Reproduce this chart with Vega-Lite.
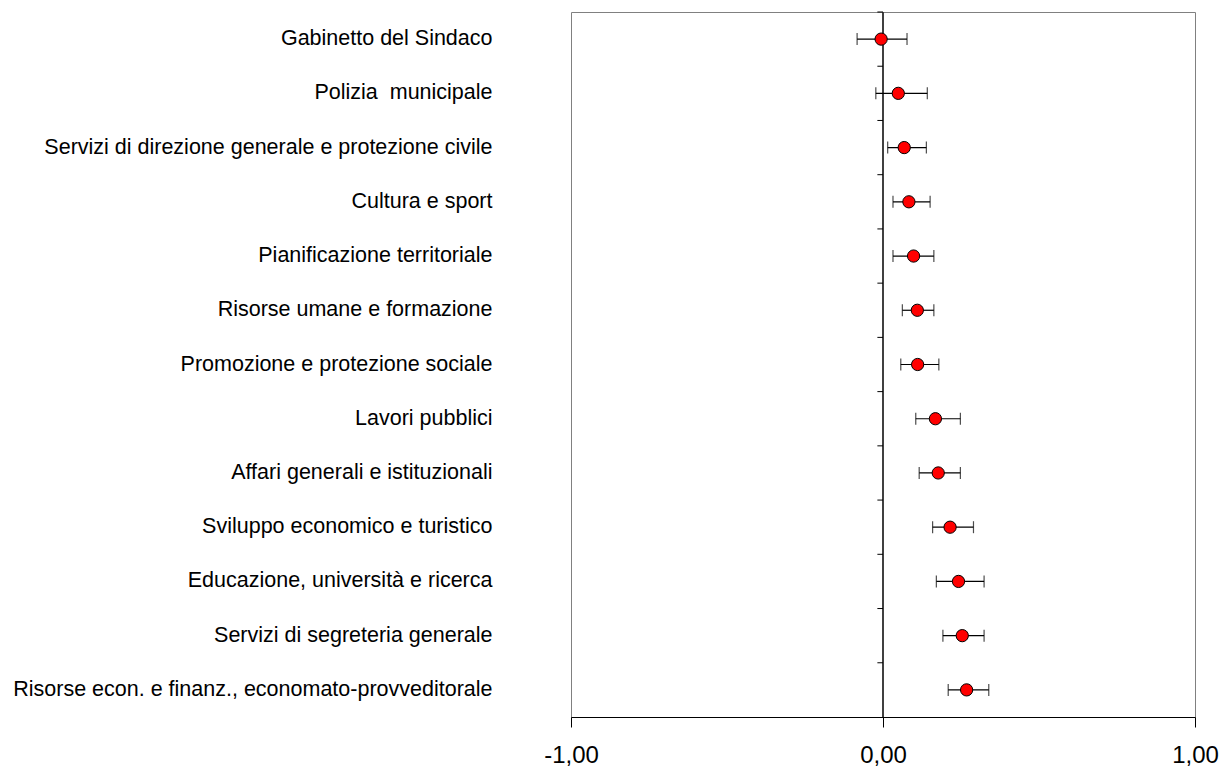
{
  "$schema": "https://vega.github.io/schema/vega-lite/v6.json",
  "width": 624,
  "height": 705,
  "autosize": {"type": "none"},
  "padding": {"left": 571, "top": 12, "right": 29, "bottom": 50},
  "config": {
    "font": "Liberation Sans",
    "view": {"stroke": "#808080", "strokeWidth": 1}
  },
  "data": {
    "values": [
      {"settore": "Gabinetto del Sindaco", "stima": -0.006, "lo": -0.083, "hi": 0.077},
      {"settore": "Polizia\u00a0 municipale", "stima": 0.049, "lo": -0.023, "hi": 0.142},
      {"settore": "Servizi di direzione generale e protezione civile\u00a0", "stima": 0.068, "lo": 0.015, "hi": 0.139},
      {"settore": "Cultura e sport", "stima": 0.083, "lo": 0.032, "hi": 0.151},
      {"settore": "Pianificazione territoriale\u00a0", "stima": 0.098, "lo": 0.032, "hi": 0.163},
      {"settore": "Risorse umane e formazione", "stima": 0.110, "lo": 0.062, "hi": 0.163},
      {"settore": "Promozione e protezione sociale\u00a0", "stima": 0.111, "lo": 0.057, "hi": 0.179},
      {"settore": "Lavori pubblici", "stima": 0.168, "lo": 0.105, "hi": 0.248},
      {"settore": "Affari generali e istituzionali", "stima": 0.177, "lo": 0.116, "hi": 0.248},
      {"settore": "Sviluppo economico e turistico", "stima": 0.215, "lo": 0.159, "hi": 0.290},
      {"settore": "Educazione, università e ricerca", "stima": 0.242, "lo": 0.171, "hi": 0.324},
      {"settore": "Servizi di segreteria generale", "stima": 0.254, "lo": 0.192, "hi": 0.324},
      {"settore": "Risorse econ. e finanz., economato-provveditorale", "stima": 0.268, "lo": 0.209, "hi": 0.339}
    ]
  },
  "encoding": {
    "y": {
      "field": "settore",
      "type": "nominal",
      "sort": null,
      "scale": {"paddingInner": 0, "paddingOuter": 0},
      "axis": {
        "title": null,
        "ticks": false,
        "domain": false,
        "labelPadding": 79,
        "labelFontSize": 21.5,
        "labelColor": "#000000",
        "labelFont": "Liberation Sans",
        "labelLimit": 700
      }
    }
  },
  "layer": [
    {
      "mark": {"type": "rule", "color": "#404040", "strokeWidth": 1},
      "encoding": {
        "x": {
          "datum": 0,
          "type": "quantitative",
          "scale": {"domain": [-1, 1], "nice": false, "zero": false},
          "axis": {
            "title": null,
            "values": [-1, 0, 1],
            "labelExpr": "replace(replace(format(datum.value, '.2f'), '.', ','), '\u2212', '-')",
            "grid": false,
            "domainColor": "#000000",
            "tickColor": "#000000",
            "tickSize": 10,
            "labelFlush": false,
            "labelOverlap": false,
            "labelFontSize": 24,
            "labelColor": "#000000",
            "labelPadding": 16,
            "labelFont": "Liberation Sans"
          }
        },
        "y": null
      }
    },
    {
      "mark": {"type": "rule", "color": "#000000", "strokeWidth": 1},
      "encoding": {
        "x": {"datum": -0.018, "type": "quantitative"},
        "x2": {"datum": 0},
        "y": {"field": "settore", "type": "nominal", "sort": null, "bandPosition": 0}
      }
    },
    {
      "mark": {"type": "rule", "color": "#000000", "strokeWidth": 1.2},
      "encoding": {
        "x": {"field": "lo", "type": "quantitative"},
        "x2": {"field": "hi"}
      }
    },
    {
      "mark": {"type": "tick", "color": "#000000", "thickness": 1.2, "size": 12},
      "encoding": {"x": {"field": "lo", "type": "quantitative"}}
    },
    {
      "mark": {"type": "tick", "color": "#000000", "thickness": 1.2, "size": 12},
      "encoding": {"x": {"field": "hi", "type": "quantitative"}}
    },
    {
      "mark": {"type": "point", "shape": "circle", "filled": true, "fill": "#ff0000", "stroke": "#000000", "strokeWidth": 1, "size": 150, "opacity": 1},
      "encoding": {"x": {"field": "stima", "type": "quantitative"}}
    }
  ]
}
